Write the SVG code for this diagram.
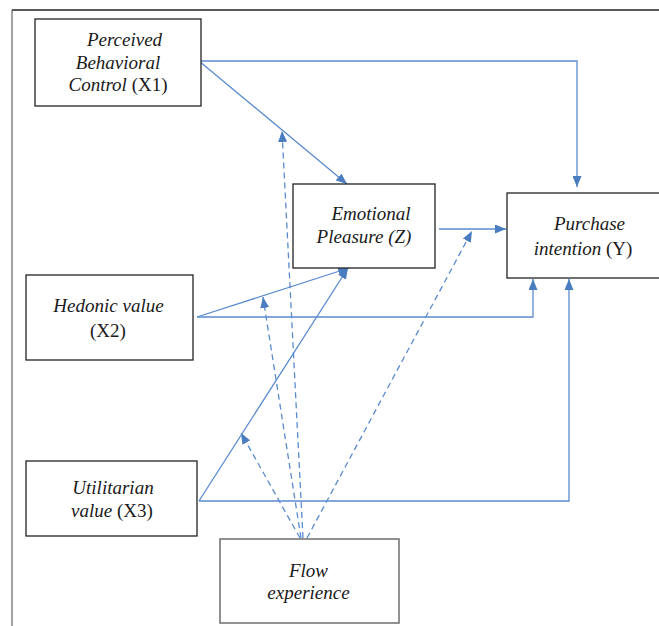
<svg xmlns="http://www.w3.org/2000/svg" width="659" height="626" viewBox="0 0 659 626">
  <style>
    .box { fill: #ffffff; stroke: #222222; stroke-width: 1.3; }
    .box2 { fill: #ffffff; stroke: #6e6e6e; stroke-width: 1.5; }
    .lbl { font-family: "Liberation Serif", "Times New Roman", serif; font-size: 19px; fill: #1a1a1a; text-anchor: middle; }
    .it { font-style: italic; }
    .conn { fill: none; stroke: #5b8bcf; stroke-width: 1.3; marker-end: url(#arr); }
    .dash { stroke-dasharray: 6 4; }
  </style>
  <defs>
    <marker id="arr" markerUnits="userSpaceOnUse" markerWidth="11" markerHeight="9" refX="11" refY="4.5" orient="auto">
      <path d="M0,0 L11,4.5 L0,9 z" fill="#4a7dc0"/>
    </marker>
  </defs>

  <g id="frame">
    <line x1="12" y1="10" x2="12" y2="626" stroke="#707070" stroke-width="1.3"/>
    <line x1="12" y1="10" x2="659" y2="10" stroke="#222222" stroke-width="1.3"/>
  </g>

  <g id="connectors">
    <path class="conn" d="M199,61 H577 V187"/>
    <path class="conn" d="M199,61 L347,184"/>
    <path class="conn" d="M439,229 H506"/>
    <path class="conn" d="M197,317 L349,268"/>
    <path class="conn" d="M197,317 H533 V279"/>
    <path class="conn" d="M199,501 L348,268"/>
    <path class="conn" d="M199,501 H569 V279"/>
    <path class="conn dash" d="M303,538 L282,131"/>
    <path class="conn dash" d="M301,538 L263,297"/>
    <path class="conn dash" d="M300,538 L241,433"/>
    <path class="conn dash" d="M307,538 L472,231"/>
  </g>

  <g id="node-x1">
    <rect class="box" x="35" y="19" width="166" height="87"/>
    <text class="lbl it" x="124.5" y="46">Perceived</text>
    <text class="lbl it" x="118" y="68.5">Behavioral</text>
    <text class="lbl" x="118" y="91"><tspan class="it">Control</tspan> (X1)</text>
  </g>

  <g id="node-z">
    <rect class="box" x="293" y="184" width="142" height="84"/>
    <text class="lbl it" x="371" y="220">Emotional</text>
    <text class="lbl it" x="364" y="243">Pleasure (Z)</text>
  </g>

  <g id="node-y">
    <rect class="box" x="507" y="193" width="160" height="85"/>
    <text class="lbl it" x="589.5" y="230">Purchase</text>
    <text class="lbl" x="583" y="255"><tspan class="it">intention</tspan> (Y)</text>
  </g>

  <g id="node-x2">
    <rect class="box" x="26" y="275" width="167" height="85"/>
    <text class="lbl it" x="108.5" y="312">Hedonic value</text>
    <text class="lbl" x="108" y="336.5">(X2)</text>
  </g>

  <g id="node-x3">
    <rect class="box" x="26" y="461" width="171" height="75"/>
    <text class="lbl it" x="113" y="494">Utilitarian</text>
    <text class="lbl" x="112" y="517"><tspan class="it">value</tspan> (X3)</text>
  </g>

  <g id="node-flow">
    <rect class="box2" x="220" y="539" width="179" height="84"/>
    <text class="lbl it" x="308.5" y="576.5">Flow</text>
    <text class="lbl it" x="308.5" y="598.5">experience</text>
  </g>
</svg>
